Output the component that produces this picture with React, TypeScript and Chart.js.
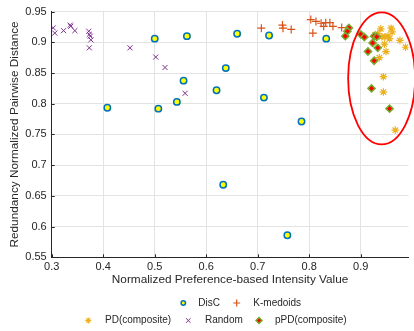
import React, { useEffect, useRef } from 'react';
import { Chart, registerables } from 'chart.js';
import { drawPoint } from 'chart.js/helpers';

Chart.register(...registerables);

// ---- data ----
const xTickValues = [0.3, 0.4, 0.5, 0.6, 0.7, 0.8, 0.9];
const yTickValues = [0.55, 0.6, 0.65, 0.7, 0.75, 0.8, 0.85, 0.9, 0.95];

const discX = [0.5, 0.5625, 0.408, 0.507, 0.543, 0.556, 0.66, 0.722, 0.833, 0.638, 0.62, 0.712, 0.785, 0.633, 0.7575];
const discY = [0.906, 0.91, 0.7935, 0.792, 0.803, 0.8376, 0.914, 0.911, 0.906, 0.858, 0.822, 0.81, 0.771, 0.668, 0.586];

const kmedX = [0.707, 0.748, 0.749, 0.765, 0.803, 0.807, 0.813, 0.823, 0.828, 0.832, 0.84, 0.846, 0.863];
const kmedY = [0.923, 0.928, 0.923, 0.921, 0.937, 0.915, 0.934, 0.931, 0.926, 0.932, 0.932, 0.926, 0.924];

const pdX = [0.939, 0.959, 0.961, 0.933, 0.941, 0.947, 0.953, 0.956, 0.976, 0.987, 0.946, 0.949, 0.936, 0.944, 0.944, 0.967, 0.928];
const pdY = [0.922, 0.923, 0.917, 0.914, 0.909, 0.909, 0.91, 0.906, 0.903, 0.892, 0.897, 0.885, 0.875, 0.844, 0.819, 0.757, 0.912];

const randX = [0.303, 0.306, 0.323, 0.336, 0.337, 0.345, 0.372, 0.373, 0.375, 0.376, 0.373, 0.452, 0.502, 0.52, 0.559];
const randY = [0.9235, 0.915, 0.919, 0.928, 0.926, 0.919, 0.918, 0.913, 0.91, 0.904, 0.891, 0.891, 0.876, 0.859, 0.817];

const ppdX = [0.877, 0.874, 0.87, 0.9, 0.907, 0.926, 0.931, 0.923, 0.933, 0.914, 0.926, 0.921, 0.956];
const ppdY = [0.9235, 0.918, 0.91, 0.913, 0.9085, 0.91, 0.909, 0.899, 0.891, 0.885, 0.87, 0.825, 0.792];

const ellipseCenterX = 0.9405;
const ellipseCenterY = 0.8413;
const ellipseRadiusX = 0.065;
const ellipseRadiusY = 0.1075;

const seriesNames = ['DisC', 'K-medoids', 'PD(composite)', 'Random', 'pPD(composite)'];

const toPoints = (xs: number[], ys: number[]) => xs.map((x, i) => ({ x, y: ys[i] }));

const TEXT = '#262626';
const FONT = '"Liberation Sans", Arial, sans-serif';

const ellipsePlugin = {
  id: 'ellipse',
  afterDatasetsDraw(chart: any) {
    const { ctx, scales } = chart;
    const cx = scales.x.getPixelForValue(ellipseCenterX);
    const cy = scales.y.getPixelForValue(ellipseCenterY);
    const rx = Math.abs(scales.x.getPixelForValue(ellipseCenterX + ellipseRadiusX) - cx);
    const ry = Math.abs(scales.y.getPixelForValue(ellipseCenterY + ellipseRadiusY) - cy);
    ctx.save();
    ctx.beginPath();
    ctx.ellipse(cx, cy, rx, ry, 0, 0, Math.PI * 2);
    ctx.strokeStyle = '#FF0000';
    ctx.lineWidth = 1.8;
    ctx.stroke();
    ctx.restore();
  },
};

const innerTicksPlugin = {
  id: 'innerTicks',
  afterDraw(chart: any) {
    const { ctx, scales, chartArea } = chart;
    ctx.save();
    ctx.strokeStyle = TEXT;
    ctx.lineWidth = 1;
    ctx.beginPath();
    xTickValues.forEach((v) => {
      const px = Math.round(scales.x.getPixelForValue(v)) + 0.5;
      ctx.moveTo(px, chartArea.bottom);
      ctx.lineTo(px, chartArea.bottom - 3);
    });
    yTickValues.forEach((v) => {
      const py = Math.round(scales.y.getPixelForValue(v)) + 0.5;
      ctx.moveTo(chartArea.left, py);
      ctx.lineTo(chartArea.left + 3, py);
    });
    ctx.stroke();
    ctx.restore();
  },
};

// legend layout: [series index, marker x, text x, row y]
const legendLayout = [
  { name: 'DisC', mx: 183.3, tx: 198.3, y: 303 },
  { name: 'K-medoids', mx: 236.7, tx: 253.3, y: 303 },
  { name: 'PD(composite)', mx: 88.3, tx: 105, y: 320.5 },
  { name: 'Random', mx: 188.3, tx: 205, y: 320.5 },
  { name: 'pPD(composite)', mx: 259, tx: 275, y: 320.5 },
];

const legendPlugin = {
  id: 'customLegend',
  afterDraw(chart: any) {
    const { ctx } = chart;
    ctx.save();
    legendLayout.forEach((item) => {
      const ds = chart.data.datasets.find((d: any) => d.label === item.name);
      if (!ds) return;
      ctx.fillStyle = ds.backgroundColor;
      ctx.strokeStyle = ds.borderColor;
      ctx.lineWidth = ds.borderWidth;
      drawPoint(ctx, { pointStyle: ds.pointStyle, radius: ds.legendRadius, rotation: 0, borderWidth: ds.borderWidth }, item.mx, item.y);
      ctx.fillStyle = TEXT;
      ctx.font = `10px ${FONT}`;
      ctx.textAlign = 'left';
      ctx.textBaseline = 'middle';
      ctx.fillText(item.name, item.tx, item.y);
    });
    ctx.restore();
  },
};

export default function App() {
  const canvasRef = useRef<HTMLCanvasElement | null>(null);

  useEffect(() => {
    if (!canvasRef.current) return;
    const datasets: any[] = [
      {
        label: seriesNames[4],
        data: toPoints(ppdX, ppdY),
        pointStyle: 'rectRot',
        pointRadius: 3.6,
        legendRadius: 3,
        backgroundColor: '#FF0000',
        borderColor: '#77AC30',
        borderWidth: 1.5,
      },
      {
        label: seriesNames[3],
        data: toPoints(randX, randY),
        pointStyle: 'crossRot',
        pointRadius: 3.6,
        legendRadius: 3.2,
        backgroundColor: '#7E2F8E',
        borderColor: '#7E2F8E',
        borderWidth: 1,
      },
      {
        label: seriesNames[2],
        data: toPoints(pdX, pdY),
        pointStyle: 'star',
        pointRadius: 3.8,
        legendRadius: 3,
        backgroundColor: '#EDB120',
        borderColor: '#EDB120',
        borderWidth: 1.2,
      },
      {
        label: seriesNames[1],
        data: toPoints(kmedX, kmedY),
        pointStyle: 'cross',
        pointRadius: 4,
        legendRadius: 3.5,
        backgroundColor: '#D95319',
        borderColor: '#D95319',
        borderWidth: 1.2,
      },
      {
        label: seriesNames[0],
        data: toPoints(discX, discY),
        pointStyle: 'circle',
        pointRadius: 3.2,
        legendRadius: 2.2,
        backgroundColor: '#FFFF00',
        borderColor: '#0072BD',
        borderWidth: 1.5,
      },
    ];

    const chart = new Chart(canvasRef.current, {
      type: 'scatter',
      data: { datasets },
      options: {
        animation: false,
        responsive: false,
        devicePixelRatio: 1,
        layout: { padding: { top: 9, left: 0, right: 0, bottom: 43.9 } },
        plugins: {
          legend: { display: false },
          tooltip: { enabled: false },
        },
        scales: {
          x: {
            type: 'linear',
            min: 0.3,
            max: 0.9927,
            afterBuildTicks: (scale: any) => {
              scale.ticks = xTickValues.map((v) => ({ value: v }));
            },
            afterFit: (scale: any) => {
              scale.height = 29.8;
            },
            grid: { color: '#e3e3e3', lineWidth: 1, drawTicks: false },
            border: { display: true, color: TEXT, width: 1 },
            ticks: {
              padding: 3,
              color: TEXT,
              font: { family: FONT, size: 11 },
              maxRotation: 0,
              callback: (v: any) => String(v),
            },
            title: {
              display: true,
              text: 'Normalized Preference-based Intensity Value',
              color: TEXT,
              font: { family: FONT, size: 11.8 },
              padding: { top: 0, bottom: 0 },
            },
          },
          y: {
            type: 'linear',
            min: 0.55,
            max: 0.95,
            afterBuildTicks: (scale: any) => {
              scale.ticks = yTickValues.map((v) => ({ value: v }));
            },
            afterFit: (scale: any) => {
              scale.width = 51.7;
            },
            grid: { color: '#e3e3e3', lineWidth: 1, drawTicks: false },
            border: { display: true, color: TEXT, width: 1 },
            ticks: {
              padding: 5,
              color: TEXT,
              font: { family: FONT, size: 11 },
              callback: (v: any) => String(v),
            },
            title: {
              display: true,
              text: 'Redundancy Normalized Pairwise Distance',
              color: TEXT,
              font: { family: FONT, size: 11.8 },
              padding: { top: 8, bottom: 0 },
            },
          },
        },
      },
      plugins: [ellipsePlugin, innerTicksPlugin, legendPlugin],
    } as any);

    return () => chart.destroy();
  }, []);

  return (
    <div style={{ position: 'fixed', left: 0, top: 0, width: 414, height: 331, background: '#fff' }}>
      <canvas ref={canvasRef} width={414} height={331} style={{ display: 'block' }} />
    </div>
  );
}
